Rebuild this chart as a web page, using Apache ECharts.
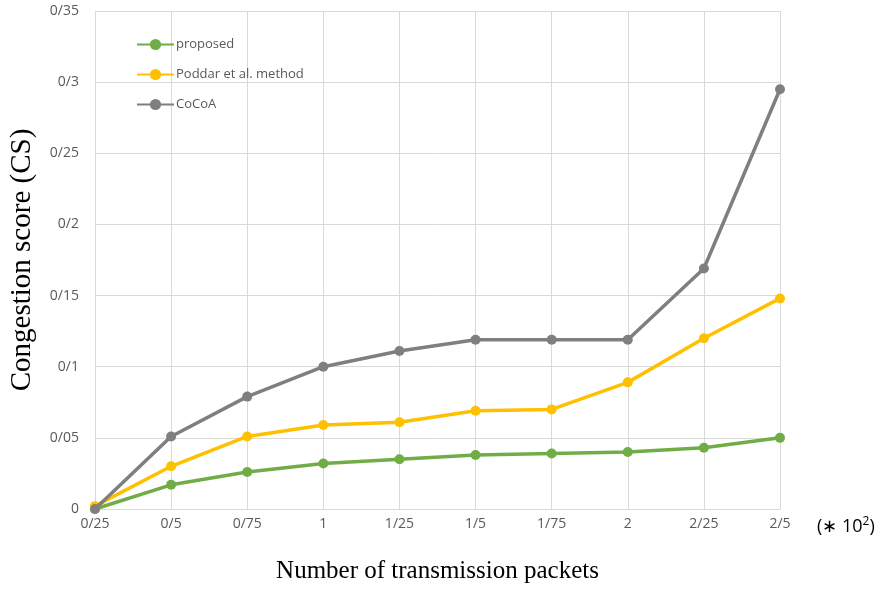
<!DOCTYPE html>
<html>
<head>
<meta charset="utf-8">
<script src="https://cdn.jsdelivr.net/npm/echarts@6/dist/echarts.min.js"></script>
<style>
  html, body { margin: 0; padding: 0; background: #fff; }
  #chart { width: 878px; height: 590px; }
</style>
</head>
<body>
<div id="chart"></div>
<script>
// Packet counts (x 10^2), written with "/" as the decimal separator
const categories = ['0/25', '0/5', '0/75', '1', '1/25', '1/5', '1/75', '2', '2/25', '2/5'];

// Congestion score per method
const proposed = [0.000, 0.017, 0.026, 0.032, 0.035, 0.038, 0.039, 0.040, 0.043, 0.050];
const poddar   = [0.002, 0.030, 0.051, 0.059, 0.061, 0.069, 0.070, 0.089, 0.120, 0.148];
const cocoa    = [0.000, 0.051, 0.079, 0.100, 0.111, 0.119, 0.119, 0.119, 0.169, 0.295];

// Y tick labels, one per 0.05 step
const yTickLabels = ['0', '0/05', '0/1', '0/15', '0/2', '0/25', '0/3', '0/35'];

const seriesNames = ['proposed', 'Poddar et al. method', 'CoCoA'];
const seriesColors = ['#70AD47', '#FFC000', '#7F7F7F'];
const seriesData = [proposed, poddar, cocoa];

const chart = echarts.init(document.getElementById('chart'));

const labelFont = '"Open Sans", "Liberation Sans", sans-serif';
const serifFont = '"Liberation Serif", "DejaVu Serif", serif';

chart.setOption({
  backgroundColor: '#ffffff',
  animation: false,
  grid: { left: 93, right: 98, top: 11, bottom: 81, containLabel: false },
  legend: {
    orient: 'vertical',
    left: 131,
    top: 33,
    padding: 5,
    itemGap: 17,
    itemWidth: 37,
    itemHeight: 14,
    textStyle: { color: '#595959', fontSize: 13, fontFamily: labelFont, padding: [0, 0, 0, -3] },
    data: seriesNames
  },
  xAxis: {
    type: 'category',
    data: categories,
    boundaryGap: false,
    axisLine: { show: true, lineStyle: { color: '#D9D9D9', width: 1 } },
    axisTick: { show: false },
    splitLine: { show: true, lineStyle: { color: '#D9D9D9', width: 1 } },
    axisLabel: { color: '#595959', fontSize: 14, fontFamily: labelFont, margin: 8 },
    name: 'Number of transmission packets',
    nameLocation: 'middle',
    nameGap: 50,
    nameTextStyle: { color: '#000', fontSize: 25, fontFamily: serifFont }
  },
  yAxis: {
    type: 'value',
    min: 0,
    max: 0.35,
    interval: 0.05,
    axisLine: { show: false },
    axisTick: { show: false },
    splitLine: { show: true, lineStyle: { color: '#D9D9D9', width: 1 } },
    axisLabel: {
      color: '#595959', fontSize: 14, fontFamily: labelFont, margin: 16,
      formatter: v => yTickLabels[Math.round(v / 0.05)]
    },
    name: 'Congestion score (CS)',
    nameLocation: 'middle',
    nameGap: 58,
    nameTextStyle: { color: '#000', fontSize: 29, fontFamily: serifFont }
  },
  graphic: [{
    type: 'text',
    left: 817,
    top: 516,
    style: {
      text: '{a|(∗ 10}{s|2}{a|)}',
      rich: {
        a: { fontSize: 18, fontFamily: labelFont, fill: '#000', verticalAlign: 'bottom' },
        s: { fontSize: 12, fontFamily: labelFont, fill: '#000', verticalAlign: 'top', padding: [0, 0, 8, 0] }
      }
    }
  }],
  series: seriesNames.map((name, i) => ({
    name: name,
    type: 'line',
    data: seriesData[i],
    symbol: 'circle',
    symbolSize: 10,
    showSymbol: true,
    lineStyle: { color: seriesColors[i], width: 3.5 },
    itemStyle: { color: seriesColors[i] },
    z: 2 + i
  }))
});
</script>
</body>
</html>
